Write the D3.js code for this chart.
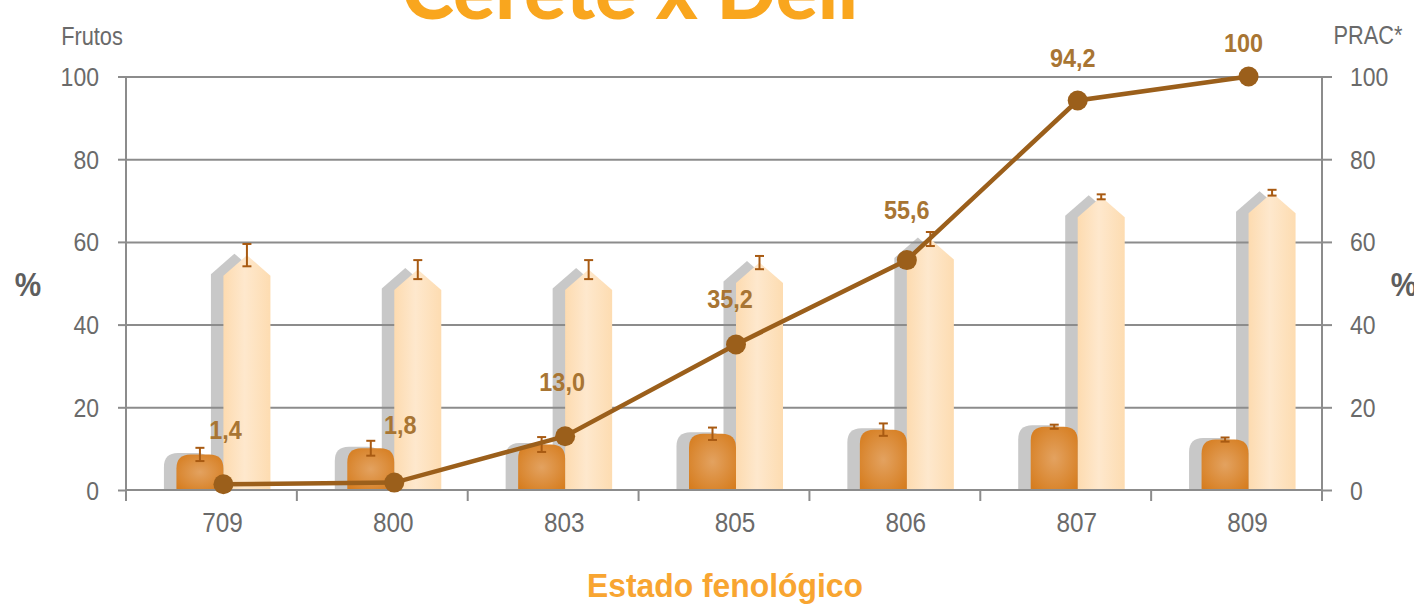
<!DOCTYPE html>
<html>
<head>
<meta charset="utf-8">
<script src="https://cdn.jsdelivr.net/npm/d3@7"></script>
<style>
  html, body { margin: 0; padding: 0; background: #ffffff; }
  svg { display: block; }
  .axis text { font-family: "Liberation Sans", Arial, sans-serif; fill: #6a6a6a; }
</style>
</head>
<body>
<svg id="chart" width="1414" height="608"></svg>
<script>
// ---------- data ----------
const categories = ["709", "800", "803", "805", "806", "807", "809"];
const seriesA = [8.6, 10.1, 11.0, 13.6, 14.6, 15.3, 12.2];      // dark orange bars
const seriesAErr = [1.6, 1.8, 1.8, 1.5, 1.5, 0.5, 0.5];
const seriesB = [56.8, 53.3, 53.3, 55.0, 60.7, 70.9, 71.9];     // light bars
const seriesBErr = [2.7, 2.3, 2.3, 1.6, 1.7, 0.6, 0.7];
const prac = [1.4, 1.8, 13.0, 35.2, 55.6, 94.2, 100];           // PRAC line
const pracLabels = ["1,4", "1,8", "13,0", "35,2", "55,6", "94,2", "100"];
const yTicks = [0, 20, 40, 60, 80, 100];

// ---------- layout ----------
const svg = d3.select("#chart");
const pL = 126, pR = 1322, pT = 76.5, pB = 490;
const x = d3.scaleBand().domain(categories).range([pL, pR]).padding(0);
const y = d3.scaleLinear().domain([0, 100]).range([pB, pT]);
const yR = d3.scaleLinear().domain([0, 100]).range([pB, pT]);

const sans = '"Liberation Sans", Arial, sans-serif';
const barW = 47, darkOff = -35, lightOff = 12, ptOff = 12;
const shDx = -12.5, shDy = -1.5;
const tipH = 20.5, rad = 14;

const cx = c => x(c) + x.bandwidth() / 2;

// condense text horizontally (narrow typeface look)
function condense(sel, f) {
  sel.each(function () {
    const w = this.getComputedTextLength();
    d3.select(this).attr("textLength", w * f).attr("lengthAdjust", "spacingAndGlyphs");
  });
}

// defs: gradients
const defs = svg.append("defs");
const lg = defs.append("linearGradient").attr("id", "lightGrad").attr("x1", "0").attr("x2", "1").attr("y1", "0").attr("y2", "0");
lg.append("stop").attr("offset", "0%").attr("stop-color", "#fddbb0");
lg.append("stop").attr("offset", "45%").attr("stop-color", "#fee8cd");
lg.append("stop").attr("offset", "100%").attr("stop-color", "#fddcb1");
const rg = defs.append("radialGradient").attr("id", "darkGrad").attr("cx", "50%").attr("cy", "50%").attr("r", "65%");
rg.append("stop").attr("offset", "0%").attr("stop-color", "#e3a260");
rg.append("stop").attr("offset", "100%").attr("stop-color", "#d67d1f");

function pentagon(x0, w, yt, yb) {
  const x1 = x0 + w, xc = x0 + w / 2, ys = yt + tipH;
  return `M${x0},${yb}L${x0},${ys}L${xc},${yt}L${x1},${ys}L${x1},${yb}Z`;
}
function rounded(x0, w, yt, yb) {
  const x1 = x0 + w;
  const r = Math.min(rad, (yb - yt));
  return `M${x0},${yb}L${x0},${yt + r}Q${x0},${yt} ${x0 + r},${yt}L${x1 - r},${yt}Q${x1},${yt} ${x1},${yt + r}L${x1},${yb}Z`;
}

// shadows
const gSh = svg.append("g");
categories.forEach((c, i) => {
  gSh.append("path").attr("d", pentagon(cx(c) + lightOff + shDx, barW, y(seriesB[i]) + shDy, pB)).attr("fill", "#c8c8c8");
  gSh.append("path").attr("d", rounded(cx(c) + darkOff + shDx, barW, y(seriesA[i]) + shDy, pB)).attr("fill", "#c8c8c8");
});

// gridlines
svg.append("g").attr("transform", `translate(${pL},0)`)
  .call(d3.axisLeft(y).tickValues(yTicks.slice(1)).tickSize(-(pR - pL)).tickFormat(""))
  .call(g => g.select(".domain").remove())
  .call(g => g.selectAll("line").attr("stroke", "#8c8c8c").attr("stroke-width", 2));

// bars
const gBars = svg.append("g");
categories.forEach((c, i) => {
  gBars.append("path").attr("d", pentagon(cx(c) + lightOff, barW, y(seriesB[i]), pB)).attr("fill", "url(#lightGrad)");
  gBars.append("path").attr("d", rounded(cx(c) + darkOff, barW, y(seriesA[i]), pB)).attr("fill", "url(#darkGrad)");
});

// error bars
const gErr = svg.append("g").attr("stroke", "#a85a12").attr("stroke-width", 2).attr("fill", "none");
function errBar(xc, v, e) {
  const y0 = y(v - e), y1 = y(v + e);
  gErr.append("line").attr("x1", xc).attr("x2", xc).attr("y1", y0).attr("y2", y1);
  gErr.append("line").attr("x1", xc - 4.5).attr("x2", xc + 4.5).attr("y1", y0).attr("y2", y0);
  gErr.append("line").attr("x1", xc - 4.5).attr("x2", xc + 4.5).attr("y1", y1).attr("y2", y1);
}
categories.forEach((c, i) => {
  errBar(cx(c) + darkOff + barW / 2, seriesA[i], seriesAErr[i]);
  errBar(cx(c) + lightOff + barW / 2, seriesB[i], seriesBErr[i]);
});

// axes
const axL = svg.append("g").attr("class", "axis").attr("transform", `translate(${pL},0)`)
  .call(d3.axisLeft(y).tickValues(yTicks).tickSizeInner(8).tickSizeOuter(0).tickPadding(19));
const axR = svg.append("g").attr("class", "axis").attr("transform", `translate(${pR},0)`)
  .call(d3.axisRight(yR).tickValues(yTicks).tickSizeInner(10).tickSizeOuter(0).tickPadding(18));
[axL, axR].forEach(a => {
  a.select(".domain").attr("stroke", "#8c8c8c").attr("stroke-width", 2)
    .attr("d", `M0,${pT}V${pB + 10}`);
  a.selectAll(".tick line").attr("stroke", "#8c8c8c").attr("stroke-width", 2);
  a.selectAll("text").style("font-size", "25px").attr("dy", "0.36em").call(condense, 0.92);
});

const axB = svg.append("g").attr("class", "axis").attr("transform", `translate(0,${pB})`)
  .call(d3.axisBottom(x).tickSize(0).tickPadding(0));
axB.select(".domain").attr("d", `M${pL},0H${pR}`).attr("stroke", "#8c8c8c").attr("stroke-width", 2);
axB.selectAll(".tick text").attr("x", ptOff - 1).attr("y", 23).attr("dy", "0.71em").style("font-size", "27px").call(condense, 0.9);
// boundary ticks
const bounds = categories.map(c => x(c)).concat([pR]);
axB.selectAll(".btick").data(bounds).enter().append("line")
  .attr("x1", d => d).attr("x2", d => d).attr("y1", 0).attr("y2", 11)
  .attr("stroke", "#8c8c8c").attr("stroke-width", 2);

// PRAC line
const px = (c) => cx(c) + ptOff;
const line = d3.line().x((d, i) => px(categories[i])).y(d => y(d));
svg.append("path").datum(prac).attr("d", line).attr("fill", "none").attr("stroke", "#9b5f1b").attr("stroke-width", 4.5);
svg.append("g").selectAll("circle").data(prac).enter().append("circle")
  .attr("cx", (d, i) => px(categories[i])).attr("cy", d => y(d)).attr("r", 10).attr("fill", "#9b5f1b");

// data labels
const labelDx = [2, 6, -3, -6, 0, -5, -5];
const labelDy = [-55, -57.5, -54.5, -46, -50, -43, -34];
svg.append("g").selectAll("text").data(prac).enter().append("text")
  .attr("x", (d, i) => px(categories[i]) + labelDx[i])
  .attr("y", (d, i) => y(d) + labelDy[i])
  .attr("dy", "0.36em")
  .attr("text-anchor", "middle")
  .style("font-family", sans).style("font-weight", "bold").style("font-size", "26px")
  .attr("fill", "#a87533")
  .text((d, i) => pracLabels[i])
  .call(condense, 0.9);

// axis titles
svg.append("text").attr("x", 92).attr("y", 45).attr("text-anchor", "middle")
  .style("font-family", sans).style("font-size", "25px").attr("fill", "#6a6a6a").text("Frutos").call(condense, 0.87);
svg.append("text").attr("x", 1368).attr("y", 44).attr("text-anchor", "middle")
  .style("font-family", sans).style("font-size", "25px").attr("fill", "#6a6a6a").text("PRAC*").call(condense, 0.87);
svg.append("text").attr("x", 28).attr("y", 296).attr("text-anchor", "middle")
  .style("font-family", sans).style("font-weight", "bold").style("font-size", "33px").attr("fill", "#5e5e5e").text("%").call(condense, 0.9);
svg.append("text").attr("x", 1404).attr("y", 296).attr("text-anchor", "middle")
  .style("font-family", sans).style("font-weight", "bold").style("font-size", "33px").attr("fill", "#5e5e5e").text("%").call(condense, 0.9);
svg.append("text").attr("x", 725).attr("y", 597).attr("text-anchor", "middle")
  .style("font-family", sans).style("font-weight", "bold").style("font-size", "33.5px").attr("fill", "#f8a531")
  .text("Estado fenológico").call(condense, 0.95);

// title (clipped at top)
svg.append("text").attr("x", 402).attr("y", 19)
  .attr("textLength", 456).attr("lengthAdjust", "spacingAndGlyphs")
  .style("font-family", "Lato, 'DejaVu Sans', sans-serif").style("font-weight", 900).style("font-size", "78px")
  .attr("fill", "#f9a61e").text("Cerete x Dell");
</script>
</body>
</html>
